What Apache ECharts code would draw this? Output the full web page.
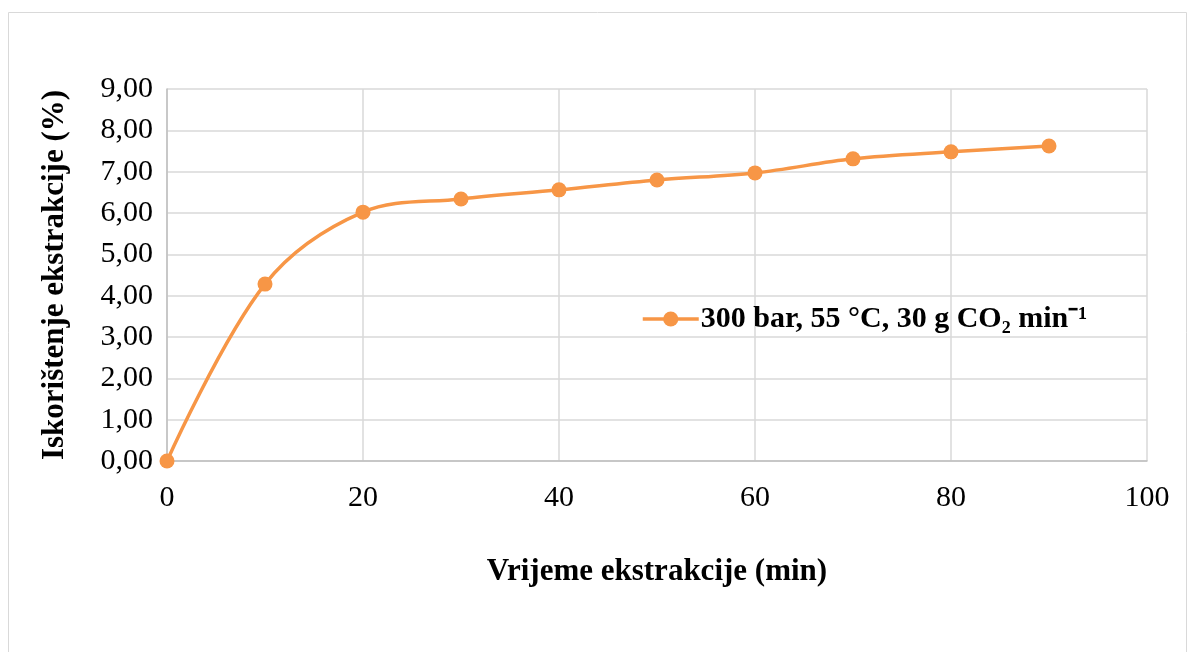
<!DOCTYPE html>
<html><head><meta charset="utf-8">
<script src="https://cdn.jsdelivr.net/npm/echarts@6/dist/echarts.min.js"></script>
<style>html,body{margin:0;padding:0;background:#fff}#c{width:1191px;height:652px}</style>
</head><body><div id="c"></div>
<script>
const times = [0, 10, 20, 30, 40, 50, 60, 70, 80, 90];
const yieldVals = [0, 4.28, 6.02, 6.34, 6.56, 6.80, 6.97, 7.31, 7.48, 7.62];
const seriesName = '300 bar, 55 °C, 30 g CO₂ min⁻¹';
const xTitle = 'Vrijeme ekstrakcije (min)';
const yTitle = 'Iskorištenje ekstrakcije (%)';

const chart = echarts.init(document.getElementById('c'), null, {renderer: 'canvas'});
const font = '"Liberation Serif", "Times New Roman", serif';
chart.setOption({
  animation: false,
  graphic: [{type: 'rect', shape: {x: 8.5, y: 12.5, width: 1178, height: 660}, style: {fill: 'none', stroke: '#d9d9d9', lineWidth: 1}, silent: true}],
  grid: {left: 167, right: 44, top: 89, bottom: 191, containLabel: false},
  legend: {
    data: [seriesName], left: 636, top: 299, itemWidth: 56, itemHeight: 19, itemGap: 0,
    lineStyle: {width: 3.5},
    textStyle: {fontFamily: font, fontSize: 30, fontWeight: 'bold', color: '#000', padding: [0,0,0,-3]}
  },
  xAxis: {
    type: 'value', min: 0, max: 100, interval: 20,
    name: xTitle, nameLocation: 'middle', nameGap: 95,
    nameTextStyle: {fontFamily: font, fontSize: 31, fontWeight: 'bold', color: '#000'},
    axisLine: {show: true, lineStyle: {color: '#bfbfbf', width: 1.5}},
    axisTick: {show: false},
    axisLabel: {fontFamily: font, fontSize: 30, color: '#000', margin: 22},
    splitLine: {show: true, lineStyle: {color: '#d9d9d9', width: 1.5}}
  },
  yAxis: {
    type: 'value', min: 0, max: 9, interval: 1,
    name: yTitle, nameLocation: 'middle', nameGap: 97, nameRotate: 90,
    nameTextStyle: {fontFamily: font, fontSize: 31, fontWeight: 'bold', color: '#000'},
    axisLine: {show: true, lineStyle: {color: '#bfbfbf', width: 1.5}},
    axisTick: {show: false},
    axisLabel: {fontFamily: font, fontSize: 30, color: '#000', margin: 14,
      formatter: v => v.toFixed(2).replace('.', ',')},
    splitLine: {show: true, lineStyle: {color: '#d9d9d9', width: 1.5}}
  },
  series: [{
    name: seriesName, type: 'line', smooth: 0.35,
    data: times.map((t, i) => [t, yieldVals[i]]),
    symbol: 'circle', symbolSize: 15,
    lineStyle: {color: '#F79646', width: 3.5},
    itemStyle: {color: '#F79646'}
  }]
});
</script></body></html>
